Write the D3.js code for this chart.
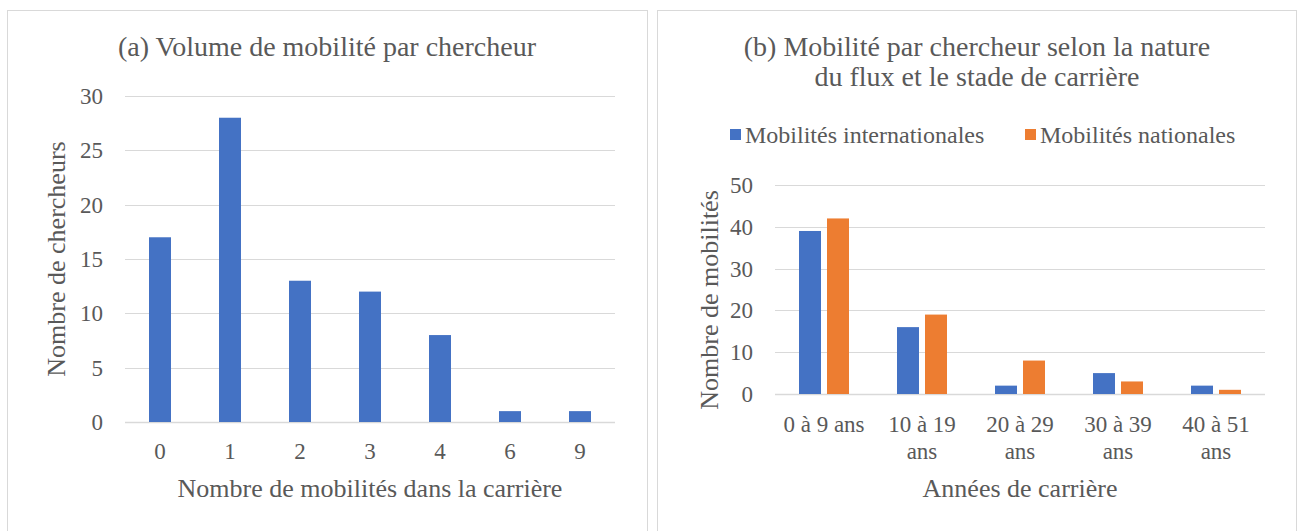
<!DOCTYPE html>
<html>
<head>
<meta charset="utf-8">
<script src="https://cdn.jsdelivr.net/npm/d3@7"></script>
</head>
<body style="margin:0">
<script>
  // Panel (a) data
  const volumeCats = ['0', '1', '2', '3', '4', '6', '9'];
  const volumeValues = [17, 28, 13, 12, 8, 1, 1];
  const volumeTicks = [0, 5, 10, 15, 20, 25, 30];

  // Panel (b) data
  const stageCats = [['0 à 9 ans'], ['10 à 19', 'ans'], ['20 à 29', 'ans'], ['30 à 39', 'ans'], ['40 à 51', 'ans']];
  const seriesNames = ['Mobilités internationales', 'Mobilités nationales'];
  const internationalValues = [39, 16, 2, 5, 2];
  const nationalValues = [42, 19, 8, 3, 1];
  const stageTicks = [0, 10, 20, 30, 40, 50];

  const colors = ['#4472C4', '#ED7D31'];
  const gridColor = '#d9d9d9';
  const textColor = '#595959';

  const svg = d3.select('body').append('svg')
    .attr('width', 1300)
    .attr('height', 531)
    .attr('font-family', 'Liberation Serif')
    .attr('fill', textColor);

  // Panel borders
  svg.append('rect').attr('x', 7.5).attr('y', 10.5).attr('width', 640).attr('height', 540)
    .attr('fill', 'none').attr('stroke', gridColor);
  svg.append('rect').attr('x', 657.5).attr('y', 10.5).attr('width', 639).attr('height', 540)
    .attr('fill', 'none').attr('stroke', gridColor);

  // ---------- Panel (a) ----------
  const a = svg.append('g');
  const xA = d3.scaleBand().domain(volumeCats).range([125, 615]);
  const yA = d3.scaleLinear().domain([0, 30]).range([422, 96]);
  const barWA = 22;

  a.append('text').attr('x', 327).attr('y', 56).attr('text-anchor', 'middle')
    .attr('font-size', 28).text('(a) Volume de mobilité par chercheur');

  a.selectAll('.grid').data(volumeTicks).join('line')
    .attr('x1', 125).attr('x2', 615)
    .attr('y1', (d) => Math.round(yA(d)) + 0.5).attr('y2', (d) => Math.round(yA(d)) + 0.5)
    .attr('stroke', gridColor).attr('stroke-width', (d) => d === 0 ? 1.5 : 1.2);

  a.selectAll('.ytick').data(volumeTicks).join('text')
    .attr('x', 103).attr('y', (d) => yA(d) + 8).attr('text-anchor', 'end')
    .attr('font-size', 23).text((d) => d);

  a.selectAll('.bar').data(volumeValues).join('rect')
    .attr('x', (d, i) => xA(volumeCats[i]) + xA.bandwidth() / 2 - barWA / 2)
    .attr('width', barWA)
    .attr('y', (d) => yA(d))
    .attr('height', (d) => yA(0) - yA(d))
    .attr('fill', colors[0]);

  a.selectAll('.xtick').data(volumeCats).join('text')
    .attr('x', (d) => xA(d) + xA.bandwidth() / 2).attr('y', 459).attr('text-anchor', 'middle')
    .attr('font-size', 23).text((d) => d);

  a.append('text').attr('x', 370).attr('y', 497).attr('text-anchor', 'middle')
    .attr('font-size', 26).text('Nombre de mobilités dans la carrière');

  a.append('text').attr('transform', 'translate(65,259) rotate(-90)').attr('text-anchor', 'middle')
    .attr('font-size', 26).text('Nombre de chercheurs');

  // ---------- Panel (b) ----------
  const b = svg.append('g');
  const catKeys = stageCats.map((d) => d.join(' '));
  const xB = d3.scaleBand().domain(catKeys).range([775, 1265]);
  const yB = d3.scaleLinear().domain([0, 50]).range([394, 185]);
  const barWB = 22;
  const barGap = 6;

  b.append('text').attr('x', 977).attr('y', 56).attr('text-anchor', 'middle')
    .attr('font-size', 28).text('(b) Mobilité par chercheur selon la nature');
  b.append('text').attr('x', 977).attr('y', 86).attr('text-anchor', 'middle')
    .attr('font-size', 28).text('du flux et le stade de carrière');

  // Legend
  const legendX = [730, 1025];
  const legend = b.selectAll('.legend').data(seriesNames).join('g')
    .attr('transform', (d, i) => `translate(${legendX[i]},135)`);
  legend.append('rect').attr('x', 0).attr('y', -6).attr('width', 11).attr('height', 11)
    .attr('fill', (d, i) => colors[i]);
  legend.append('text').attr('x', 15).attr('y', 8).attr('font-size', 24).text((d) => d);

  b.selectAll('.grid').data(stageTicks).join('line')
    .attr('x1', 775).attr('x2', 1265)
    .attr('y1', (d) => Math.round(yB(d)) + 0.5).attr('y2', (d) => Math.round(yB(d)) + 0.5)
    .attr('stroke', gridColor).attr('stroke-width', (d) => d === 0 ? 1.5 : 1.2);

  b.selectAll('.ytick').data(stageTicks).join('text')
    .attr('x', 753).attr('y', (d) => yB(d) + 8).attr('text-anchor', 'end')
    .attr('font-size', 23).text((d) => d);

  const seriesB = [internationalValues, nationalValues];
  seriesB.forEach((vals, s) => {
    b.selectAll('.bar' + s).data(vals).join('rect')
      .attr('x', (d, i) => {
        const c = xB(catKeys[i]) + xB.bandwidth() / 2;
        return s === 0 ? c - barGap / 2 - barWB : c + barGap / 2;
      })
      .attr('width', barWB)
      .attr('y', (d) => yB(d))
      .attr('height', (d) => yB(0) - yB(d))
      .attr('fill', colors[s]);
  });

  const xtB = b.selectAll('.xtick').data(stageCats).join('text')
    .attr('x', (d, i) => xB(catKeys[i]) + xB.bandwidth() / 2)
    .attr('text-anchor', 'middle').attr('font-size', 23);
  xtB.selectAll('tspan').data((d) => d).join('tspan')
    .attr('x', function () { return this.parentNode.getAttribute('x'); })
    .attr('y', (d, j) => 432 + j * 27)
    .text((d) => d);

  b.append('text').attr('x', 1020).attr('y', 497).attr('text-anchor', 'middle')
    .attr('font-size', 26).text('Années de carrière');

  b.append('text').attr('transform', 'translate(718,300) rotate(-90)').attr('text-anchor', 'middle')
    .attr('font-size', 26).text('Nombre de mobilités');
</script>
</body>
</html>
